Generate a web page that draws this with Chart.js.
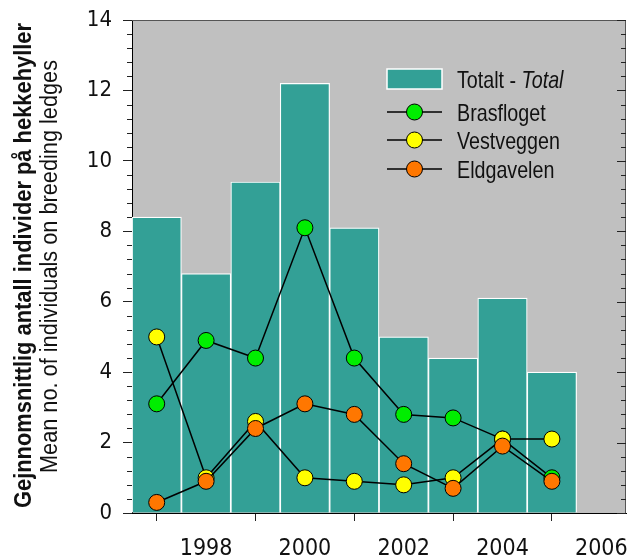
<!DOCTYPE html>
<html>
<head>
<meta charset="utf-8">
<script src="https://cdn.jsdelivr.net/npm/chart.js@4/dist/chart.umd.min.js"></script>
<style>
  html, body { margin: 0; padding: 0; background: #ffffff; }
  #wrap { width: 627px; height: 560px; position: relative; }
</style>
</head>
<body>
<div id="wrap"><canvas id="chart"></canvas></div>
<script>
// Survey years and mean counts per ledge group
const years = [1997, 1998, 1999, 2000, 2001, 2002, 2003, 2004, 2005];
const totalt = [8.4, 6.8, 9.4, 12.2, 8.1, 5.0, 4.4, 6.1, 4.0];
const brasfloget = [3.1, 4.9, 4.4, 8.1, 4.4, 2.8, 2.7, 2.1, 1.0];
const vestveggen = [5.0, 1.0, 2.6, 1.0, 0.9, 0.8, 1.0, 2.1, 2.1];
const eldgavelen = [0.3, 0.9, 2.4, 3.1, 2.8, 1.4, 0.7, 1.9, 0.9];

// Axis ticks
const xTickYears = [1998, 2000, 2002, 2004, 2006];
const yTickValues = [0, 2, 4, 6, 8, 10, 12, 14];
const yMinorStep = 0.4;

const TICK_FONT = "'DejaVu Sans Condensed', 'DejaVu Sans', sans-serif";
const TEXT_FONT = "'Liberation Sans', Arial, sans-serif";
const NARROW = 0.82;           // horizontal squeeze for a narrow sans look
const TEXT = '#111111';
const BAR_FILL = '#33a096';
const PLOT_BG = '#c0c0c0';

const pts = (vals) => years.map((y, i) => ({ x: y, y: vals[i] }));

const lineStyle = (label, colour, vals, order) => ({
  type: 'line',
  label: label,
  data: pts(vals),
  order: order,
  borderColor: '#000000',
  borderWidth: 1.5,
  pointRadius: 8,
  pointHoverRadius: 8,
  pointBackgroundColor: colour,
  pointBorderColor: '#000000',
  pointBorderWidth: 1,
  tension: 0,
  fill: false
});

// Write text squeezed horizontally by factor k, starting at (x, y)
function narrowText(ctx, text, x, y, k) {
  ctx.save();
  ctx.translate(x, y);
  ctx.scale(k, 1);
  ctx.fillText(text, 0, 0);
  ctx.restore();
  return ctx.measureText(text).width * k;
}

// Grey plot background
const plotBackground = {
  id: 'plotBackground',
  beforeDraw(chart) {
    const { ctx, chartArea: a } = chart;
    ctx.save();
    ctx.fillStyle = PLOT_BG;
    ctx.fillRect(a.left, a.top, a.right - a.left, a.bottom - a.top);
    ctx.restore();
  }
};

// Frame on top/right, minor ticks on the left, mirrored ticks on the right
const frameAndTicks = {
  id: 'frameAndTicks',
  afterDraw(chart) {
    const { ctx, chartArea: a } = chart;
    const ys = chart.scales.y;
    ctx.save();
    ctx.strokeStyle = '#555555';
    ctx.lineWidth = 1;
    ctx.beginPath();
    ctx.moveTo(a.left, a.top + 0.5);
    ctx.lineTo(a.right - 0.5, a.top + 0.5);
    ctx.lineTo(a.right - 0.5, a.bottom);
    ctx.stroke();

    ctx.strokeStyle = '#222222';
    ctx.beginPath();
    const n = Math.round(ys.max / yMinorStep);
    for (let i = 0; i <= n; i++) {
      const v = Math.round(i * yMinorStep * 10) / 10;
      const py = Math.round(ys.getPixelForValue(v)) + 0.5;
      const major = yTickValues.includes(v);
      if (!major) {
        ctx.moveTo(a.left - 5, py);
        ctx.lineTo(a.left, py);
      }
      const len = major ? 9 : 5;
      ctx.moveTo(a.right - len, py);
      ctx.lineTo(a.right, py);
    }
    ctx.stroke();
    ctx.restore();
  }
};

// Two-line vertical axis title (bold Norwegian, regular English)
const yTitle = {
  id: 'yTitle',
  afterDraw(chart) {
    const { ctx } = chart;
    const lines = [
      { text: 'Gejnnomsnittlig antall individer på hekkehyller', font: 'bold 24px ' + TEXT_FONT, base: 31, from: 508, to: 23 },
      { text: 'Mean no. of individuals on breeding ledges', font: '23px ' + TEXT_FONT, base: 57, from: 473, to: 60 }
    ];
    for (const l of lines) {
      ctx.save();
      ctx.fillStyle = TEXT;
      ctx.font = l.font;
      ctx.textAlign = 'left';
      ctx.textBaseline = 'alphabetic';
      const w = ctx.measureText(l.text).width;
      const k = (l.from - l.to) / w;
      ctx.translate(l.base, l.from);
      ctx.rotate(-Math.PI / 2);
      ctx.scale(k, 1);
      ctx.fillText(l.text, 0, 0);
      ctx.restore();
    }
  }
};

// Legend drawn inside the plot, using each dataset's own styling
const insideLegend = {
  id: 'insideLegend',
  afterDatasetsDraw(chart) {
    const { ctx } = chart;
    const ds = chart.data.datasets;
    const x0 = 387, x1 = 442, tx = 457;
    ctx.save();
    // bar entry
    ctx.fillStyle = ds[0].backgroundColor;
    ctx.fillRect(x0, 69, x1 - x0, 20);
    ctx.strokeStyle = '#ffffff';
    ctx.lineWidth = 1.5;
    ctx.strokeRect(x0, 69, x1 - x0, 20);
    ctx.fillStyle = TEXT;
    ctx.textBaseline = 'alphabetic';
    ctx.textAlign = 'left';
    ctx.font = '24px ' + TEXT_FONT;
    const w = narrowText(ctx, 'Totalt - ', tx, 88, NARROW);
    ctx.font = 'italic 24px ' + TEXT_FONT;
    narrowText(ctx, 'Total', tx + w, 88, NARROW);

    // line entries
    const rows = [112, 140, 169];
    ctx.font = '24px ' + TEXT_FONT;
    for (let i = 1; i < ds.length; i++) {
      const y = rows[i - 1];
      ctx.strokeStyle = ds[i].borderColor;
      ctx.lineWidth = ds[i].borderWidth;
      ctx.beginPath();
      ctx.moveTo(x0, y);
      ctx.lineTo(x1, y);
      ctx.stroke();
      ctx.beginPath();
      ctx.arc((x0 + x1) / 2, y, ds[i].pointRadius, 0, Math.PI * 2);
      ctx.fillStyle = ds[i].pointBackgroundColor;
      ctx.fill();
      ctx.lineWidth = ds[i].pointBorderWidth;
      ctx.strokeStyle = ds[i].pointBorderColor;
      ctx.stroke();
      ctx.fillStyle = TEXT;
      narrowText(ctx, ds[i].label, tx, y + 8.5, NARROW);
    }
    ctx.restore();
  }
};

new Chart(document.getElementById('chart'), {
  type: 'bar',
  data: {
    datasets: [
      {
        type: 'bar',
        label: 'Totalt - Total',
        data: pts(totalt),
        order: 4,
        backgroundColor: BAR_FILL,
        borderColor: '#ffffff',
        borderWidth: 1.2,
        borderSkipped: 'bottom',
        barPercentage: 1,
        categoryPercentage: 1
      },
      lineStyle('Brasfloget', '#00ee00', brasfloget, 3),
      lineStyle('Vestveggen', '#ffff00', vestveggen, 2),
      lineStyle('Eldgavelen', '#ff7700', eldgavelen, 1)
    ]
  },
  options: {
    responsive: true,
    maintainAspectRatio: false,
    animation: false,
    events: [],
    layout: { autoPadding: false, padding: { top: 20, right: 1, left: 0, bottom: 0 } },
    plugins: {
      legend: { display: false },
      tooltip: { enabled: false },
      title: { display: false }
    },
    scales: {
      x: {
        type: 'linear',
        min: 1996.5,
        max: 2006.5,
        offset: false,
        afterBuildTicks(scale) { scale.ticks = xTickYears.map(v => ({ value: v })); },
        afterFit(scale) {
          scale.height = 47;
          scale.paddingLeft = 0;
          scale.paddingRight = 0;
        },
        ticks: {
          color: TEXT,
          font: { family: TICK_FONT, size: 23 },
          padding: 14,
          maxRotation: 0,
          autoSkip: false,
          callback: (v) => String(v)
        },
        grid: { drawOnChartArea: false, drawTicks: true, tickLength: 8, tickColor: '#222222' },
        border: { display: true, color: '#000000', width: 1 }
      },
      y: {
        type: 'linear',
        min: 0,
        max: 14,
        afterBuildTicks(scale) { scale.ticks = yTickValues.map(v => ({ value: v })); },
        afterFit(scale) {
          scale.width = 132;
          scale.paddingTop = 0;
          scale.paddingBottom = 0;
        },
        ticks: {
          color: TEXT,
          font: { family: TICK_FONT, size: 22 },
          padding: 11,
          autoSkip: false,
          callback: (v) => String(v)
        },
        grid: { drawOnChartArea: false, drawTicks: true, tickLength: 9, tickColor: '#222222' },
        border: { display: true, color: '#000000', width: 1 }
      }
    }
  },
  plugins: [plotBackground, frameAndTicks, yTitle, insideLegend]
});
</script>
</body>
</html>
